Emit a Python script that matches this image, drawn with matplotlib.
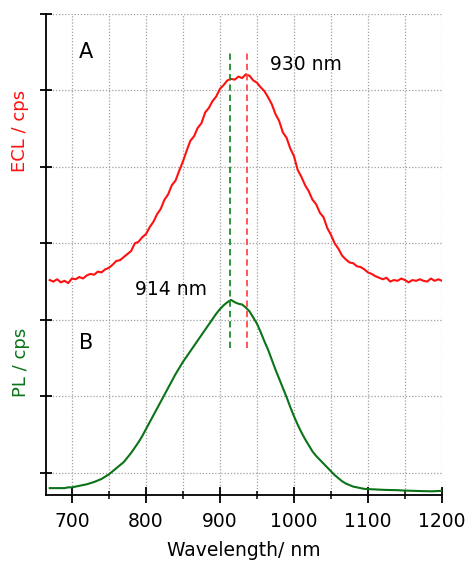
import numpy as np
import matplotlib
matplotlib.use("Agg")
import matplotlib.pyplot as plt
from matplotlib.ticker import MultipleLocator, NullFormatter

# spectra, 5 nm steps from 670 to 1200 nm
# (y in stacked-axis units, one unit per y tick)
wl = np.arange(670, 1201, 5)

ecl = [2.81, 2.79, 2.82, 2.78, 2.80, 2.77, 2.83, 2.82, 2.85, 2.83,
       2.87, 2.89, 2.88, 2.92, 2.91, 2.95, 2.97, 3.01, 3.06, 3.07,
       3.11, 3.15, 3.19, 3.29, 3.31, 3.37, 3.41, 3.50, 3.57, 3.67,
       3.74, 3.86, 3.93, 4.05, 4.11, 4.24, 4.36, 4.50, 4.63, 4.69,
       4.80, 4.86, 5.00, 5.06, 5.15, 5.21, 5.31, 5.36, 5.42, 5.44,
       5.43, 5.47, 5.45, 5.50, 5.48, 5.42, 5.39, 5.33, 5.28, 5.20,
       5.11, 4.98, 4.89, 4.74, 4.67, 4.53, 4.43, 4.25, 4.16, 4.05,
       3.97, 3.86, 3.80, 3.69, 3.63, 3.49, 3.40, 3.29, 3.22, 3.13,
       3.08, 3.04, 3.03, 2.99, 2.98, 2.95, 2.91, 2.89, 2.86, 2.84,
       2.82, 2.84, 2.79, 2.81, 2.80, 2.83, 2.81, 2.78, 2.81, 2.80,
       2.82, 2.80, 2.79, 2.83, 2.80, 2.82, 2.80]

pl = [0.09, 0.09, 0.09, 0.09, 0.09, 0.10, 0.10, 0.11, 0.12, 0.13,
      0.14, 0.155, 0.17, 0.19, 0.21, 0.24, 0.27, 0.31, 0.35, 0.39,
      0.43, 0.49, 0.55, 0.62, 0.69, 0.77, 0.86, 0.95, 1.04, 1.13,
      1.22, 1.31, 1.40, 1.49, 1.58, 1.66, 1.74, 1.81, 1.88, 1.95,
      2.02, 2.09, 2.16, 2.23, 2.30, 2.37, 2.43, 2.48, 2.52, 2.55,
      2.52, 2.50, 2.49, 2.45, 2.40, 2.32, 2.24, 2.13, 2.01, 1.90,
      1.77, 1.64, 1.52, 1.40, 1.28, 1.15, 1.03, 0.92, 0.82, 0.73,
      0.65, 0.57, 0.51, 0.46, 0.41, 0.36, 0.31, 0.26, 0.22, 0.18,
      0.15, 0.13, 0.11, 0.10, 0.09, 0.08, 0.078, 0.075, 0.073, 0.07,
      0.068, 0.066, 0.065, 0.064, 0.063, 0.06, 0.058, 0.056, 0.055, 0.053,
      0.052, 0.05, 0.05, 0.048, 0.05, 0.052, 0.055]

pl_peak = 914
ecl_peak = 936
peak_lo, peak_hi = 1.92, 5.78

red = '#ff1010'
green = '#0b7318'

fig = plt.figure(figsize=(4.67, 5.62), dpi=100)
ax = fig.add_axes([46/467, 1-495/562, 396/467, 481/562])

ax.plot(wl, ecl, color=red, lw=1.5)
ax.plot(wl, pl, color=green, lw=1.5)

ax.vlines([pl_peak], peak_lo, peak_hi, colors='#1e8c2a', linestyles=(0, (3.5, 2.2)), lw=1.3)
ax.vlines([ecl_peak], peak_lo, peak_hi, colors='#ff4a4a', linestyles=(0, (3.5, 2.2)), lw=1.3)

ax.set_xlim(665, 1200)
ax.set_ylim(0, 6.288)
ax.xaxis.set_major_locator(MultipleLocator(100))
ax.xaxis.set_minor_locator(MultipleLocator(50))
ax.set_yticks(0.288 + np.arange(7))
ax.yaxis.set_major_formatter(NullFormatter())

ax.grid(True, which='both', axis='x', color='#a0a0a0', ls=(0, (1, 1.5)), lw=0.9)
ax.grid(True, which='major', axis='y', color='#a0a0a0', ls=(0, (1, 1.5)), lw=0.9)
ax.set_axisbelow(True)

for s in ['top', 'right']:
    ax.spines[s].set_visible(False)
for s in ['left', 'bottom']:
    ax.spines[s].set_linewidth(1.3)

ax.tick_params(axis='x', which='major', direction='inout', length=11, width=1.3,
               labelsize=13.5, pad=7)
ax.tick_params(axis='x', which='minor', direction='inout', length=6, width=1.1)
ax.tick_params(axis='y', direction='inout', length=9, width=1.3)

ax.text(719, 5.79, 'A', fontsize=15, ha='center', va='center')
ax.text(719, 1.99, 'B', fontsize=15, ha='center', va='center')
ax.text(1016, 5.63, '930 nm', fontsize=13.5, ha='center', va='center')
ax.text(834, 2.68, '914 nm', fontsize=13.5, ha='center', va='center')

fig.text(20/467, 1-131/562, 'ECL / cps', color=red, rotation=90,
         fontsize=13, ha='center', va='center')
fig.text(21/467, 1-362/562, 'PL / cps', color=green, rotation=90,
         fontsize=13, ha='center', va='center')
fig.text(244/467, 1-550/562, 'Wavelength/ nm', fontsize=13.5,
         ha='center', va='center')

fig.savefig('out.png', dpi=100)
